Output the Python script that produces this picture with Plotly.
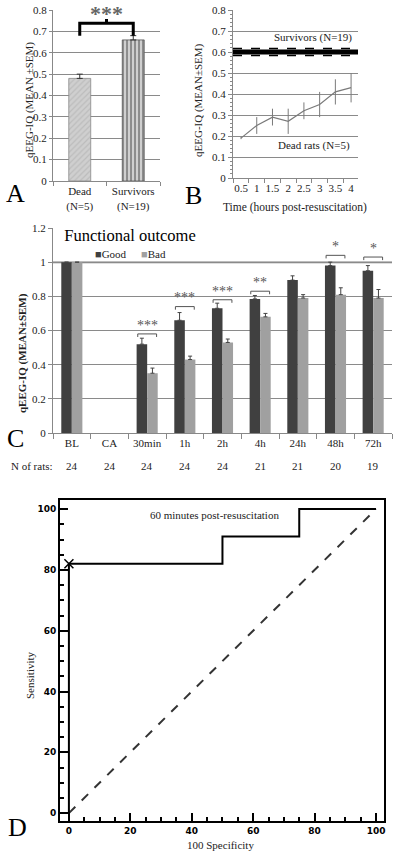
import plotly.graph_objects as go

SERIF = "Liberation Serif"
GRID = "#8a8a8a"

# ---------------- Panel A data ----------------
a_groups = ["Dead<br>(N=5)", "Survivors<br>(N=19)"]
a_values = [0.48, 0.66]
a_errors = [0.02, 0.02]

# ---------------- Panel B data ----------------
b_time = [0.5, 1, 1.5, 2, 2.5, 3, 3.5, 4]
b_dead = [0.19, 0.25, 0.29, 0.27, 0.32, 0.35, 0.41, 0.43]
b_dead_err = [0.005, 0.04, 0.04, 0.06, 0.04, 0.06, 0.06, 0.07]
b_surv_mean = 0.60
b_surv_sem = 0.017

# ---------------- Panel C data ----------------
c_cats = ["BL", "CA", "30min", "1h", "2h", "4h", "24h", "48h", "72h"]
c_good = [1.0, None, 0.52, 0.66, 0.73, 0.785, 0.895, 0.98, 0.95]
c_good_err = [0, 0, 0.035, 0.045, 0.03, 0.02, 0.025, 0.02, 0.03]
c_bad = [1.0, None, 0.35, 0.43, 0.53, 0.68, 0.79, 0.81, 0.79]
c_bad_err = [0, 0, 0.03, 0.02, 0.02, 0.02, 0.02, 0.04, 0.05]
c_n = [24, 24, 24, 24, 24, 21, 21, 20, 19]
c_sig = ["", "", "***", "***", "***", "**", "", "*", "*"]
c_sig_y = [None, None, 0.58, 0.74, 0.78, 0.83, None, 1.04, 1.03]

# ---------------- Panel D data ----------------
d_x = [0, 0, 50, 50, 75, 75, 100]      # 100 - specificity
d_y = [0, 82, 82, 91, 91, 100, 100]    # sensitivity
d_cut_x = [0]
d_cut_y = [82]
d_ticks = [0, 20, 40, 60, 80, 100]

W, H = 400, 856
def px(x):
    return x / W
def py(y):
    return 1 - y / H

fig = go.Figure()
ann = []

# ---- Panel A ----
fig.add_trace(go.Bar(
    x=[0], y=[a_values[0]], width=0.41, xaxis="x", yaxis="y",
    marker=dict(color="#c4c4c4", line=dict(color="#888", width=0.8),
                pattern=dict(shape="/", fgcolor="#a9a9a9", bgcolor="#cfcfcf", size=4, solidity=0.3)),
    error_y=dict(type="data", array=[a_errors[0]], arrayminus=[0], symmetric=False,
                 color="#333", thickness=1, width=3)))
fig.add_trace(go.Bar(
    x=[1], y=[a_values[1]], width=0.41, xaxis="x", yaxis="y",
    marker=dict(color="#9a9a9a", line=dict(color="#555", width=0.8),
                pattern=dict(shape="|", fgcolor="#3a3a3a", bgcolor="#cfcfcf", size=4, solidity=0.45)),
    error_y=dict(type="data", array=[a_errors[1]], arrayminus=[0], symmetric=False,
                 color="#333", thickness=1, width=3)))
# bracket
fig.add_trace(go.Scatter(x=[0, 0, 1, 1], y=[0.68, 0.738, 0.738, 0.68], mode="lines",
                         line=dict(color="black", width=3), xaxis="x", yaxis="y"))
fig.add_trace(go.Scatter(x=[0.5, 0.5], y=[0.738, 0.758], mode="lines",
                         line=dict(color="black", width=3), xaxis="x", yaxis="y"))

# ---- Panel B ----
fig.add_trace(go.Scatter(x=[0.245, 4.22], y=[b_surv_mean, b_surv_mean], mode="lines",
                         line=dict(color="black", width=5), xaxis="x2", yaxis="y2"))
for s in (-1, 1):
    fig.add_trace(go.Scatter(x=[0.245, 4.22], y=[b_surv_mean + s * b_surv_sem] * 2, mode="lines",
                             line=dict(color="black", width=1.5, dash="dash"), xaxis="x2", yaxis="y2"))
fig.add_trace(go.Scatter(x=b_time, y=b_dead, mode="lines",
                         line=dict(color="#7a7a7a", width=1.2),
                         error_y=dict(type="data", array=b_dead_err, color="#7a7a7a", thickness=1, width=0),
                         xaxis="x2", yaxis="y2"))

# ---- Panel C ----
cx = list(range(len(c_cats)))
fig.add_trace(go.Bar(x=cx, y=c_good, width=0.28, offset=-0.28, xaxis="x3", yaxis="y3",
                     marker=dict(color="#404040", line=dict(width=0)),
                     error_y=dict(type="data", array=c_good_err, arrayminus=[0] * 9, symmetric=False,
                                  color="#444", thickness=1, width=2)))
fig.add_trace(go.Bar(x=cx, y=c_bad, width=0.28, offset=0, xaxis="x3", yaxis="y3",
                     marker=dict(color="#a0a0a0", line=dict(width=0)),
                     error_y=dict(type="data", array=c_bad_err, arrayminus=[0] * 9, symmetric=False,
                                  color="#444", thickness=1, width=2)))
for i, (s, h) in enumerate(zip(c_sig, c_sig_y)):
    if not s:
        continue
    fig.add_trace(go.Scatter(x=[i - 0.25, i - 0.25, i + 0.25, i + 0.25], y=[h - 0.018, h, h, h - 0.018],
                             mode="lines", line=dict(color="#555", width=1), xaxis="x3", yaxis="y3"))
    ann.append(dict(x=i, y=h - 0.005, xref="x3", yref="y3", text=s, showarrow=False,
                    xanchor="center", yanchor="bottom", font=dict(family=SERIF, size=14, color="#555")))

# ---- Panel D ----
fig.add_trace(go.Scatter(x=[0, 100], y=[0, 100], mode="lines",
                         line=dict(color="#333", width=2, dash="dash"), xaxis="x4", yaxis="y4"))
fig.add_trace(go.Scatter(x=d_x, y=d_y, mode="lines", line=dict(color="black", width=2),
                         xaxis="x4", yaxis="y4"))
fig.add_trace(go.Scatter(x=d_cut_x, y=d_cut_y, mode="markers",
                         marker=dict(symbol="x-thin", size=9, line=dict(color="black", width=1.5)),
                         xaxis="x4", yaxis="y4"))

tf = dict(family=SERIF, size=11, color="#222")
dtf = dict(family="DejaVu Sans", size=9, color="black", weight="bold")

fig.update_layout(
    width=W, height=H, margin=dict(l=0, r=0, t=0, b=0, autoexpand=False),
    paper_bgcolor="white", plot_bgcolor="white", showlegend=False, barmode="overlay",
    xaxis=dict(domain=[px(53), px(160)], anchor="y", range=[-0.5, 1.5], tickvals=[0, 1], ticktext=a_groups,
               showline=True, linecolor="#888", ticks="", showgrid=False, zeroline=False, tickfont=tf,
               automargin=False,
               minor=dict(ticks="outside", tick0=-0.5, dtick=1, ticklen=4, tickcolor="#888")),
    yaxis=dict(domain=[py(181), py(10)], anchor="x", range=[0, 0.8], dtick=0.1, showgrid=True,
               gridcolor=GRID, showline=True, linecolor="#888", ticks="outside", ticklen=3,
               tickcolor="#888", zeroline=False, tickfont=tf, automargin=False),
    xaxis2=dict(domain=[px(233), px(358)], anchor="y2", range=[0.245, 4.22], tickvals=b_time,
                ticktext=[str(t) for t in b_time], showline=True, linecolor="#888", ticks="",
                showgrid=False, zeroline=False, tickfont=tf, automargin=False,
                minor=dict(ticks="outside", tick0=0.25, dtick=0.5, ticklen=4, tickcolor="#888")),
    yaxis2=dict(domain=[py(178), py(10)], anchor="x2", range=[0, 0.8], dtick=0.1, showgrid=True,
                gridcolor=GRID, showline=True, linecolor="#888", ticks="outside", ticklen=4,
                tickcolor="#888", zeroline=False, tickfont=tf, automargin=False,
                minor=dict(ticks="outside", dtick=0.02, ticklen=2, tickcolor="#888", showgrid=False)),
    xaxis3=dict(domain=[px(53), px(392)], anchor="y3", range=[-0.5, 8.5], tickvals=cx, ticktext=c_cats,
                showline=True, linecolor="#888", ticks="", showgrid=False, zeroline=False, tickfont=tf,
                automargin=False,
                minor=dict(ticks="outside", tick0=-0.5, dtick=1, ticklen=5, tickcolor="#888")),
    yaxis3=dict(domain=[py(433), py(228)], anchor="x3", range=[0, 1.2], dtick=0.2, showgrid=True,
                gridcolor=GRID, showline=True, linecolor="#888", ticks="outside", ticklen=4,
                tickcolor="#888", zeroline=False, tickfont=tf, automargin=False),
    xaxis4=dict(domain=[px(60), px(384)], anchor="y4", range=[-2.9, 102.6], tickvals=d_ticks,
                showline=True, mirror=True, linecolor="black", linewidth=2, ticks="inside", ticklen=8,
                tickwidth=2, tickcolor="black", showgrid=False, zeroline=False, tickfont=dtf,
                automargin=False,
                minor=dict(ticks="inside", dtick=5, ticklen=4, tickwidth=1.5, tickcolor="black")),
    yaxis4=dict(domain=[py(821), py(500)], anchor="x4", range=[-2.6, 103], tickvals=d_ticks,
                showline=True, mirror=True, linecolor="black", linewidth=2, ticks="inside", ticklen=8,
                tickwidth=2, tickcolor="black", showgrid=False, zeroline=False, tickfont=dtf,
                automargin=False,
                minor=dict(ticks="inside", dtick=5, ticklen=4, tickwidth=1.5, tickcolor="black")),
)

# 1.0 line in panel C (lighter and thicker)
fig.add_shape(type="line", xref="x3", yref="y3", x0=-0.5, x1=8.5, y0=1.0, y1=1.0,
              line=dict(color="#bdbdbd", width=2.5), layer="below")

def A(x, y, text, size=11, color="#222", **kw):
    d = dict(x=px(x), y=py(y), xref="paper", yref="paper", text=text, showarrow=False,
             xanchor="center", yanchor="middle",
             font=dict(family=SERIF, size=size, color=color))
    d.update(kw)
    ann.append(d)

# panel A
A(30, 100, "qEEG-IQ (MEAN ±SEM)", 11, textangle=-90)
A(106, 13, "<b>***</b>", 22, color="#666")
A(15, 194, "A", 26, color="black")
# panel B
A(199, 100, "qEEG-IQ (MEAN±SEM)", 11, textangle=-90)
A(313, 38, "Survivors (N=19)", 11)
A(314, 146, "Dead rats (N=5)", 11)
A(295, 207, "Time (hours post-resuscitation)", 11.5)
A(193, 195, "B", 26, color="black")
# panel C
A(130, 236, "Functional outcome", 16.5, color="black", bgcolor="white", width=148)
A(111, 254, "<span style='color:#404040'>■</span>Good", 11)
A(153, 254, "<span style='color:#a0a0a0'>■</span>Bad", 11)
A(22, 353, "<b>qEEG-IQ (MEAN±SEM)</b>", 11, textangle=-90)
A(32, 466, "N of rats:", 11)
A(15, 438, "C", 26, color="black")
for i, n in enumerate(c_n):
    ann.append(dict(x=i, y=py(466), xref="x3", yref="paper", text=str(n), showarrow=False,
                    xanchor="center", yanchor="middle",
                    font=dict(family=SERIF, size=11, color="#222")))
# panel D
ann.append(dict(x=47.5, y=98, xref="x4", yref="y4", text="60 minutes post-resuscitation", showarrow=False,
                xanchor="center", yanchor="middle", font=dict(family=SERIF, size=11, color="#222")))
A(30, 675, "Sensitivity", 11, textangle=-90)
A(220, 845, "100 Specificity", 11)
A(17, 827, "D", 26, color="black")

fig.update_layout(annotations=ann)
fig.write_html("out.html", config={"displayModeBar": False},
               post_script="document.body.style.margin='0';")
